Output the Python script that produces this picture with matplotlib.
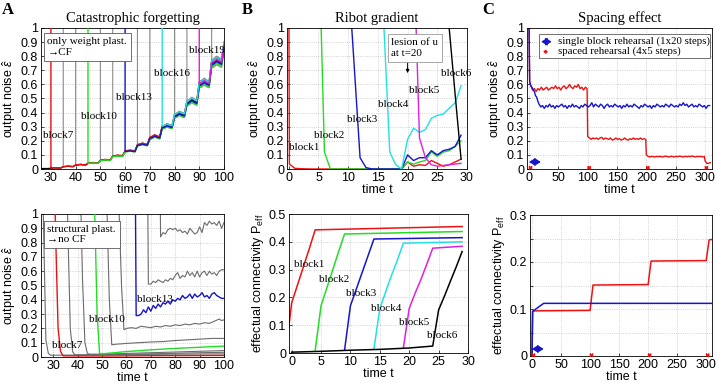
import numpy as np
import matplotlib
matplotlib.use('Agg')
import matplotlib.pyplot as plt
from matplotlib.ticker import FuncFormatter
from matplotlib.patches import Rectangle

plt.rcParams['font.family'] = ['Liberation Sans', 'DejaVu Sans']
plt.rcParams['mathtext.fontset'] = 'custom'
plt.rcParams['mathtext.rm'] = 'Liberation Sans'
plt.rcParams['mathtext.it'] = 'Liberation Sans:italic'
plt.rcParams['mathtext.bf'] = 'Liberation Sans:bold'
SERIF = ['Liberation Serif', 'DejaVu Serif']

RED = '#ee1111'; GREEN = '#22dd22'; BLUE = '#1515cc'; CYAN = '#22e0e8'; MAG = '#e020e0'

# ---------------- Panel A top: catastrophic forgetting (weight plasticity only)
cf_t = list(range(25, 101))
cf_mean = [0.003, 0.003, 0.003, 0.003, 0.003,
           0.006, 0.007, 0.008, 0.007, 0.007,
           0.016, 0.018, 0.020, 0.018, 0.017,
           0.028, 0.030, 0.032, 0.030, 0.029,
           0.040, 0.042, 0.045, 0.043, 0.042,
           0.060, 0.063, 0.066, 0.064, 0.063,
           0.090, 0.092, 0.095, 0.093, 0.092,
           0.125, 0.127, 0.130, 0.127, 0.125,
           0.168, 0.172, 0.178, 0.173, 0.170,
           0.218, 0.225, 0.235, 0.227, 0.222,
           0.295, 0.300, 0.310, 0.302, 0.298,
           0.375, 0.383, 0.395, 0.385, 0.380,
           0.465, 0.475, 0.490, 0.478, 0.470,
           0.598, 0.605, 0.620, 0.607, 0.600,
           0.745, 0.755, 0.770, 0.760, 0.750,
           0.870]
cf_blocks = list(range(6, 21))
cf_starts = [25, 30, 35, 40, 45, 50, 55, 60, 65, 70, 75, 80, 85, 90, 95]
cf_offsets = [0.0, 0.03, -0.02, 0.02, -0.03, 0.01, 0.04, -0.01, 0.02, -0.04, 0.03, 0.0, -0.02, 0.01, 0.02]
cf_pre = 1.5
cf_labels = {7: (26.8, 0.24), 10: (42.1, 0.37), 13: (56.5, 0.51), 16: (71.7, 0.68), 19: (86.0, 0.84)}
hl_colors = {6: 'k', 7: RED, 10: GREEN, 13: BLUE, 16: CYAN, 19: MAG}

# ---------------- Panel A bottom: structural plasticity
sp_b6_t = [25, 26, 27, 28, 29, 40, 60, 80, 100]
sp_b6_y = [1.8, 0.95, 0.12, 0.025, 0.012, 0.014, 0.017, 0.02, 0.022]
sp_b7_t = [30, 31, 32, 33, 34, 50, 70, 100]
sp_b7_y = [1.8, 0.85, 0.2, 0.04, 0.008, 0.007, 0.009, 0.011]
sp_b8_t = [35, 36, 37, 38, 39, 50, 60, 70, 80, 90, 100]
sp_b8_y = [1.8, 0.9, 0.2, 0.035, 0.014, 0.016, 0.019, 0.022, 0.026, 0.03, 0.033]
sp_b9_t = [40, 41, 42, 43, 44, 45, 50, 60, 70, 80, 90, 100]
sp_b9_y = [2.0, 1.3, 0.55, 0.1, 0.025, 0.02, 0.02, 0.025, 0.03, 0.035, 0.04, 0.045]
sp_b10_t = [46, 47, 48, 49, 50, 55, 60, 65, 70, 75, 80, 85, 90, 95, 100]
sp_b10_y = [1.7, 1.02, 0.3, 0.025, 0.022, 0.03, 0.038, 0.044, 0.05, 0.055, 0.06, 0.064, 0.068, 0.072, 0.076]
sp_b11_t = [51, 52, 53, 54, 56, 58, 60, 65, 70, 75, 80, 85, 90, 95, 100]
sp_b11_y = [1.9, 1.05, 0.4, 0.085, 0.09, 0.092, 0.095, 0.1, 0.105, 0.108, 0.115, 0.12, 0.125, 0.13, 0.13]
sp_b12_t = [56, 57, 58, 59, 60, 62, 64, 66, 68, 70, 72, 74, 76, 78, 80, 82, 84, 86, 88, 90, 92, 94, 96, 98, 99, 100]
sp_b12_y = [1.8, 1.02, 0.5, 0.19, 0.2, 0.205, 0.2, 0.215, 0.21, 0.205, 0.215, 0.21, 0.22, 0.215, 0.225,
            0.22, 0.23, 0.225, 0.235, 0.23, 0.24, 0.235, 0.25, 0.265, 0.255, 0.26]
sp_b13_t = list(range(63, 101))
sp_b13_y = [3.0, 0.29, 0.29, 0.30, 0.33, 0.31, 0.35, 0.32, 0.36, 0.34, 0.37, 0.35, 0.38, 0.37, 0.39, 0.37,
            0.40, 0.39, 0.41, 0.40, 0.43, 0.41, 0.42, 0.44, 0.41, 0.44, 0.42, 0.43, 0.45, 0.42, 0.43, 0.41,
            0.44, 0.45, 0.43, 0.42, 0.41, 0.41]
sp_b14_t = list(range(68, 101))
sp_b14_y = [3.0, 0.51, 0.51, 0.53, 0.52, 0.54, 0.53, 0.52, 0.54, 0.53, 0.55, 0.54, 0.57, 0.59, 0.55, 0.57,
            0.56, 0.60, 0.57, 0.59, 0.56, 0.60, 0.56, 0.59, 0.60, 0.57, 0.60, 0.58, 0.59, 0.57, 0.60, 0.61, 0.61]
sp_b15_t = list(range(73, 101))
sp_b15_y = [3.0, 0.84, 0.87, 0.86, 0.89, 0.90, 0.89, 0.90, 0.88, 0.89, 0.87, 0.88, 0.86, 0.90, 0.88, 0.86,
            0.87, 0.91, 0.87, 0.94, 0.92, 0.95, 0.93, 0.94, 0.92, 0.95, 0.90, 0.94]
sp_labels = {7: (29.6, 0.08), 10: (44.5, 0.26), 13: (64.4, 0.40)}

# ---------------- Panel B top: Ribot gradient, output noise
rb_b1_t = [0, 0.1] + list(range(1, 30))
rb_b1_y = [1.3, 0.035, 0.005, 0.002, 0.001, 0, 0, 0, 0, 0, 0, 0, 0, 0, 0, 0, 0, 0, 0, 0, 0,
           0.05, 0.02, 0.03, 0.025, 0.06, 0.04, 0.02, 0.03, 0.05, 0.07]
rb_b2_t = list(range(5, 30))
rb_b2_y = [1.72, 0.12, 0.0, 0, 0, 0, 0, 0, 0, 0, 0, 0, 0, 0, 0,
           0.05, 0.035, 0.05, 0.06, 0.12, 0.09, 0.12, 0.13, 0.16, 0.20]
rb_b3_t = list(range(10, 30))
rb_b3_y = [1.39, 0.74, 0.08, 0.01, 0.0, 0, 0, 0, 0, 0,
           0.10, 0.06, 0.08, 0.08, 0.13, 0.10, 0.13, 0.14, 0.16, 0.24]
rb_b4_t = list(range(15, 30))
rb_b4_y = [1.9, 1.02, 0.12, 0.03, 0.0,
           0.21, 0.29, 0.26, 0.28, 0.36, 0.38, 0.39, 0.43, 0.47, 0.59]
rb_b5_t = list(range(20, 30))
rb_b5_y = [2.5, 1.6, 0.22, 0.08, 0.03, 0.02, 0.025, 0.03, 0.035, 0.04]
rb_b6_t = [26, 27, 28, 29]
rb_b6_y = [1.6, 1.0, 0.53, 0.07]
rb_labels = [(0.1, 0.15), (4.3, 0.24), (9.8, 0.35), (15.1, 0.46), (20.3, 0.56), (25.7, 0.68)]
lesion_t = 20

# ---------------- Panel B bottom: effectual connectivity
pe_b1_t = [-1, 0, 1, 2, 3, 4, 29]
pe_b1_y = [0.0, 0.18, 0.245, 0.31, 0.375, 0.443, 0.455]
pe_b2_t = [4, 5, 6, 7, 8, 9, 29]
pe_b2_y = [0.008, 0.17, 0.235, 0.30, 0.365, 0.428, 0.437]
pe_b3_t = [9, 10, 11, 12, 13, 14, 29]
pe_b3_y = [0.01, 0.17, 0.23, 0.29, 0.35, 0.41, 0.415]
pe_b4_t = [14, 15, 16, 17, 18, 19, 29]
pe_b4_y = [0.015, 0.16, 0.22, 0.28, 0.335, 0.395, 0.40]
pe_b5_t = [19, 20, 21, 22, 23, 24, 29]
pe_b5_y = [0.018, 0.16, 0.215, 0.265, 0.32, 0.377, 0.384]
pe_b6_t = [0, 5, 10, 15, 20, 24, 25, 26, 27, 28, 29]
pe_b6_y = [0.003, 0.006, 0.01, 0.013, 0.018, 0.025, 0.155, 0.205, 0.258, 0.31, 0.365]
pe_labels = [(0.4, 0.317), (4.7, 0.263), (9.25, 0.213), (13.5, 0.161), (18.3, 0.11), (23.0, 0.063)]

# ---------------- Panel C top: spacing effect, output noise
sg_init_t = [0, 1, 3, 5, 7, 9, 11, 13, 15, 17]
sg_init_y = [1.0, 0.62, 0.59, 0.58, 0.56, 0.55, 0.52, 0.51, 0.48, 0.46]
sg_t = list(range(20, 310, 3))
sg_y = [0.44, 0.45, 0.43, 0.45, 0.44, 0.46, 0.44, 0.45, 0.43, 0.45,
        0.44, 0.45, 0.46, 0.44, 0.45, 0.43, 0.45, 0.44, 0.46, 0.44,
        0.45, 0.44, 0.43, 0.45, 0.44, 0.46, 0.45, 0.44, 0.45, 0.47,
        0.44, 0.46, 0.45, 0.44, 0.46, 0.45, 0.43, 0.45, 0.46, 0.44,
        0.45, 0.44, 0.46, 0.45, 0.44, 0.45, 0.43, 0.45, 0.44, 0.46,
        0.44, 0.45, 0.44, 0.46, 0.45, 0.44, 0.43, 0.45, 0.44, 0.46,
        0.45, 0.44, 0.45, 0.43, 0.45, 0.44, 0.46, 0.45, 0.44, 0.45,
        0.44, 0.46, 0.45, 0.44, 0.46, 0.45, 0.44, 0.45, 0.44, 0.46,
        0.45, 0.47, 0.45, 0.46, 0.44, 0.45, 0.46, 0.44, 0.45, 0.44,
        0.46, 0.45, 0.44, 0.45, 0.43, 0.45, 0.45]
sp_init_t = [0, 1]
sp_init_y = [1.0, 0.62]
sp1_t = list(range(3, 100, 3))
sp1_y = [0.59, 0.56, 0.57, 0.55, 0.57, 0.56, 0.58, 0.56, 0.57, 0.58, 0.56, 0.57, 0.58, 0.57, 0.59, 0.57,
         0.58, 0.56, 0.58, 0.59, 0.57, 0.58, 0.60, 0.58, 0.57, 0.59, 0.58, 0.60, 0.57, 0.58, 0.56, 0.58, 0.57]
sp2_t = list(range(100, 200, 3))
sp2_y = [0.23, 0.22, 0.21, 0.22, 0.215, 0.22, 0.21, 0.22, 0.225, 0.21, 0.22, 0.215, 0.21, 0.22, 0.205,
         0.21, 0.22, 0.21, 0.215, 0.205, 0.21, 0.22, 0.21, 0.205, 0.215, 0.21, 0.22, 0.21, 0.215, 0.21,
         0.22, 0.21, 0.215, 0.21]
sp3_t = list(range(200, 300, 3))
sp3_y = [0.10, 0.09, 0.085, 0.09, 0.088, 0.085, 0.09, 0.087, 0.09, 0.085, 0.088, 0.092, 0.087, 0.085,
         0.09, 0.088, 0.085, 0.09, 0.087, 0.092, 0.088, 0.085, 0.09, 0.087, 0.09, 0.088, 0.092, 0.088,
         0.085, 0.09, 0.087, 0.09, 0.085, 0.088]
sp4_t = [300, 303, 306, 309]
sp4_y = [0.06, 0.04, 0.04, 0.045]
single_rehearsal = (0, 20)
spaced_starts = [0, 100, 200, 300]
spaced_len = 5

# ---------------- Panel C bottom: effectual connectivity
pc_single_t = [0, 1, 20, 310]
pc_single_y = [0.0, 0.095, 0.112, 0.112]
pc_spaced_t = [0, 1, 5, 100, 105, 200, 205, 300, 305, 310]
pc_spaced_y = [0.0, 0.095, 0.096, 0.097, 0.151, 0.152, 0.202, 0.203, 0.247, 0.248]

# ======================================================================
fig = plt.figure(figsize=(7.16, 3.83), dpi=100)
W, H = 716.0, 383.0
FS_TXT = 8
FS_TICK = 9


def add_ax(l, r, t, b):
    return fig.add_axes([l / W, 1 - b / H, (r - l) / W, (b - t) / H])


fmt = FuncFormatter(lambda v, p: '%g' % round(v, 4))


def style(ax, xlim, ylim, xt, yt, yfmt=fmt):
    ax.set_xlim(*xlim)
    ax.set_ylim(*ylim)
    ax.set_xticks(xt)
    ax.set_yticks(yt)
    ax.xaxis.set_major_formatter(fmt)
    ax.yaxis.set_major_formatter(yfmt)
    ax.grid(True, color='#c4c4c4', ls=':', lw=0.6)
    ax.set_axisbelow(True)
    ax.tick_params(direction='in', length=2.5, width=0.5, labelsize=FS_TICK, pad=2)
    for s in ax.spines.values():
        s.set_linewidth(0.6)
    ax.set_xlabel('time t', fontsize=9, labelpad=0)


noise_lbl = r'output noise $\hat{\varepsilon}$'
conn_lbl = r'effectual connectivity P$_{\mathrm{eff}}$'

axA1 = add_ax(41, 224, 28, 169)
axA2 = add_ax(41, 224, 214, 357)
axB1 = add_ax(287, 467, 28, 169)
axB2 = add_ax(289, 468, 214, 353)
axC1 = add_ax(527, 712, 28, 169)
axC2 = add_ax(530, 712, 215, 356)

# ---- A top
for k, s, off in zip(cf_blocks, cf_starts, cf_offsets):
    i = cf_t.index(s)
    xs = [s] + cf_t[i:]
    ys = [cf_pre] + [v * (1 + off) for v in cf_mean[i:]]
    c = hl_colors.get(k, '0.55')
    lw = 1.0 if k in hl_colors else 0.8
    axA1.plot(xs, ys, color=c, lw=lw, zorder=3 if k in hl_colors else 2)
for k, (x, y) in cf_labels.items():
    axA1.text(x, y, 'block%d' % k, fontsize=FS_TXT, family=SERIF, va='center', zorder=5)
style(axA1, (26, 100), (0, 1), range(30, 101, 10), np.arange(0, 1.01, 0.1))
axA1.set_ylabel(noise_lbl, fontsize=9, labelpad=2)
axA1.set_title('Catastrophic forgetting', fontsize=10.5, family=SERIF, pad=4)
axA1.text(0.035, 0.935, 'only weight plast.\n\u2192CF', transform=axA1.transAxes, fontsize=FS_TXT,
          family=SERIF, va='top', ha='left', linespacing=1.25, zorder=6,
          bbox=dict(boxstyle='square,pad=0.35', fc='white', ec='0.35', lw=0.6))

# ---- A bottom
sp_blocks = [(6, sp_b6_t, sp_b6_y), (7, sp_b7_t, sp_b7_y), (8, sp_b8_t, sp_b8_y), (9, sp_b9_t, sp_b9_y),
             (10, sp_b10_t, sp_b10_y), (11, sp_b11_t, sp_b11_y), (12, sp_b12_t, sp_b12_y),
             (13, sp_b13_t, sp_b13_y), (14, sp_b14_t, sp_b14_y), (15, sp_b15_t, sp_b15_y)]
for k, xs, ys in sp_blocks:
    c = {7: RED, 10: GREEN, 13: BLUE}.get(k, '0.42')
    axA2.plot(xs, ys, color=c, lw=1.0 if c != '0.42' else 0.8, zorder=3 if c != '0.42' else 2)
for k, (x, y) in sp_labels.items():
    axA2.text(x, y, 'block%d' % k, fontsize=FS_TXT, family=SERIF, va='center', zorder=5)
style(axA2, (25, 100), (0, 1), range(30, 101, 10), np.arange(0, 1.01, 0.1))
axA2.set_ylabel(noise_lbl, fontsize=9, labelpad=2)
axA2.text(0.035, 0.925, 'structural plast.\n\u2192no CF', transform=axA2.transAxes, fontsize=FS_TXT,
          family=SERIF, va='top', ha='left', linespacing=1.25, zorder=6,
          bbox=dict(boxstyle='square,pad=0.35', fc='white', ec='0.35', lw=0.6))

# ---- B top
colsB = [RED, GREEN, BLUE, CYAN, MAG, 'k']
rbs = [(rb_b1_t, rb_b1_y), (rb_b2_t, rb_b2_y), (rb_b3_t, rb_b3_y), (rb_b4_t, rb_b4_y),
       (rb_b5_t, rb_b5_y), (rb_b6_t, rb_b6_y)]
for (xs, ys), c in zip(rbs, colsB):
    axB1.plot(xs, ys, color=c, lw=1.0)
for i, (x, y) in enumerate(rb_labels):
    axB1.text(x, y, 'block%d' % (i + 1), fontsize=FS_TXT, family=SERIF, va='center', zorder=5)
style(axB1, (-0.3, 30), (0, 1), range(0, 31, 5), np.arange(0, 1.01, 0.1))
axB1.set_ylabel(noise_lbl, fontsize=9, labelpad=2)
axB1.set_title('Ribot gradient', fontsize=10.5, family=SERIF, pad=4)
axB1.text(0.58, 0.93, 'lesion of u\nat t=20', transform=axB1.transAxes, fontsize=FS_TXT,
          family=SERIF, va='top', ha='left', linespacing=1.25, zorder=6,
          bbox=dict(boxstyle='square,pad=0.35', fc='white', ec='0.6', lw=0.6))
axB1.annotate('', xy=(lesion_t, 0.68), xytext=(lesion_t, 0.775),
              arrowprops=dict(arrowstyle='-|>', color='k', lw=0.7, mutation_scale=5,
                              shrinkA=0, shrinkB=0))

# ---- B bottom
pes = [(pe_b1_t, pe_b1_y), (pe_b2_t, pe_b2_y), (pe_b3_t, pe_b3_y), (pe_b4_t, pe_b4_y),
       (pe_b5_t, pe_b5_y), (pe_b6_t, pe_b6_y)]
for (xs, ys), c in zip(pes, colsB):
    axB2.plot(xs, ys, color=c, lw=1.1)
for i, (x, y) in enumerate(pe_labels):
    axB2.text(x, y, 'block%d' % (i + 1), fontsize=FS_TXT, family=SERIF, va='center', zorder=5)
style(axB2, (-0.45, 30), (0, 0.5), range(0, 31, 5), np.arange(0, 0.51, 0.1))
axB2.set_ylabel(conn_lbl, fontsize=9, labelpad=2)

# ---- C top
axC1.plot(sp_init_t + sp1_t + sp2_t + sp3_t + sp4_t, sp_init_y + sp1_y + sp2_y + sp3_y + sp4_y,
          color=RED, lw=1.0)
axC1.plot(sg_init_t + sg_t, sg_init_y + sg_y, color=BLUE, lw=1.0)
style(axC1, (-3.5, 312), (0, 1), range(0, 301, 50), np.arange(0, 1.01, 0.1))
axC1.set_ylabel(noise_lbl, fontsize=9, labelpad=2)
axC1.set_title('Spacing effect', fontsize=10.5, family=SERIF, pad=4)

ARROW_BLUE = dict(arrowstyle='<|-|>,head_length=0.5,head_width=0.32', color=BLUE, lw=0.9,
                  mutation_scale=7, shrinkA=0, shrinkB=0)
ARROW_RED = dict(arrowstyle='<|-|>,head_length=0.4,head_width=0.3', color=RED, lw=0.7,
                 mutation_scale=3.5, shrinkA=0, shrinkB=0)


def mark_rehearsal(ax, y_single, y_spaced):
    ax.annotate('', xy=(single_rehearsal[1], y_single), xytext=(single_rehearsal[0], y_single),
                arrowprops=ARROW_BLUE, zorder=6, annotation_clip=False)
    for s in spaced_starts:
        ax.annotate('', xy=(s + spaced_len, y_spaced), xytext=(s, y_spaced),
                    arrowprops=ARROW_RED, zorder=6, annotation_clip=False)


mark_rehearsal(axC1, 0.05, 0.009)
axC1.add_patch(Rectangle((0.066, 0.79), 0.924, 0.165, transform=axC1.transAxes, fc='white',
                         ec='0.35', lw=0.6, zorder=7))
axC1.annotate('', xy=(0.133, 0.903), xytext=(0.077, 0.903), xycoords='axes fraction',
              arrowprops=ARROW_BLUE, zorder=8)
axC1.annotate('', xy=(0.113, 0.832), xytext=(0.088, 0.832), xycoords='axes fraction',
              arrowprops=ARROW_RED, zorder=8)
axC1.text(0.165, 0.903, 'single block rehearsal (1x20 steps)', transform=axC1.transAxes,
          fontsize=7.8, family=SERIF, va='center', zorder=8)
axC1.text(0.165, 0.832, 'spaced rehearsal (4x5 steps)', transform=axC1.transAxes,
          fontsize=7.8, family=SERIF, va='center', zorder=8)

# ---- C bottom
axC2.plot(pc_spaced_t, pc_spaced_y, color=RED, lw=1.1)
axC2.plot(pc_single_t, pc_single_y, color=BLUE, lw=1.1)
fmt_c = FuncFormatter(lambda v, p: ('%g' % round(v, 4)) if abs(v * 10 - round(v * 10)) < 1e-6 else '')
style(axC2, (-3.5, 310), (0, 0.3), range(0, 301, 50), np.arange(0, 0.301, 0.05), yfmt=fmt_c)
axC2.set_ylabel(conn_lbl, fontsize=9, labelpad=2)
mark_rehearsal(axC2, 0.015, 0.002)

# panel letters
for x, lab in [(2, 'A'), (242, 'B'), (482, 'C')]:
    fig.text(x / W, 1 - 2 / H, lab, fontsize=12, fontweight='bold', family=SERIF, va='top', ha='left')

fig.savefig('out.png', dpi=100)
